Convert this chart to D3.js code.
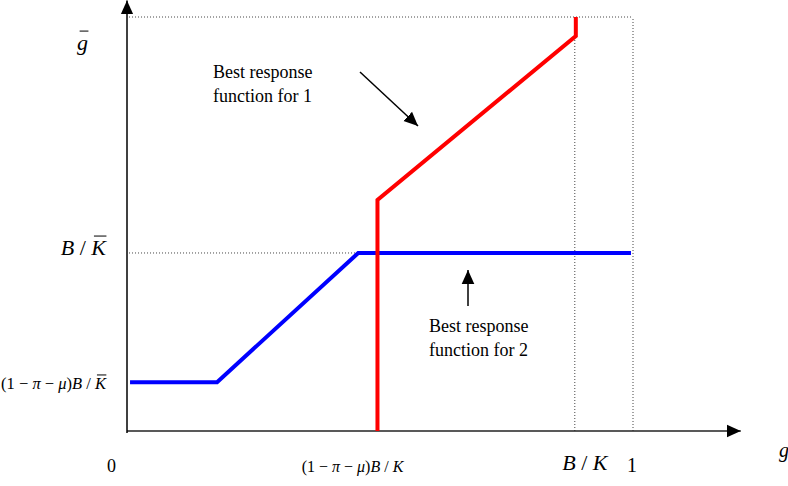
<!DOCTYPE html>
<html>
<head>
<meta charset="utf-8">
<script src="https://cdn.jsdelivr.net/npm/d3@7"></script>
<style>
  body { margin: 0; background: #fff; }
</style>
</head>
<body>
<div id="chart"></div>
<script>
const width = 788;
const height = 486;

// best response curves, in (g, g2) units where 1 = right / top bound
var blueResponse = [[0.006, 0.118], [0.178, 0.118], [0.457, 0.43], [0.996, 0.43]];
var redResponse = [[0.495, 0], [0.495, 0.558], [0.887, 0.954], [0.887, 1]];

// tick positions
var gBar = 1;
var bOverKBar = 0.43;
var lowLevel = 0.118;
var critical = 0.495;
var bOverK = 0.885;
var xEnd = 1.213, yEnd = 1.04;

const x = d3.scaleLinear().domain([0, 1]).range([127, 633]);
const y = d3.scaleLinear().domain([0, 1]).range([431, 17]);

const svg = d3.select("#chart").append("svg")
    .attr("width", width)
    .attr("height", height)
    .attr("font-family", "'Liberation Serif', 'DejaVu Serif', serif");

svg.append("defs").append("marker")
    .attr("id", "arrowhead")
    .attr("viewBox", "0 -5 10 10")
    .attr("refX", 10)
    .attr("refY", 0)
    .attr("markerWidth", 14)
    .attr("markerHeight", 14)
    .attr("markerUnits", "userSpaceOnUse")
    .attr("orient", "auto")
  .append("path")
    .attr("fill", "#000")
    .attr("d", "M0,-4.5L10,0L0,4.5Z");

// dotted guides
const guides = [
  [[0.004, gBar], [1, gBar]],
  [[1, 0], [1, gBar]],
  [[bOverK, 0], [bOverK, 0.95]],
  [[0.004, bOverKBar], [0.457, bOverKBar]]
];
svg.append("g")
    .attr("fill", "none")
    .attr("stroke", "#444")
    .attr("stroke-width", 1)
    .attr("stroke-dasharray", "1,2")
  .selectAll("path")
  .data(guides)
  .join("path")
    .attr("d", d3.line().x(d => x(d[0])).y(d => y(d[1])));

// axes
svg.append("line")
    .attr("x1", x(0)).attr("y1", y(0))
    .attr("x2", x(xEnd)).attr("y2", y(0))
    .attr("stroke", "#222").attr("stroke-width", 1.5)
    .attr("marker-end", "url(#arrowhead)");
svg.append("line")
    .attr("x1", x(0)).attr("y1", y(0) + 2)
    .attr("x2", x(0)).attr("y2", y(yEnd))
    .attr("stroke", "#000").attr("stroke-width", 1.5)
    .attr("marker-end", "url(#arrowhead)");

const line = d3.line().x(d => x(d[0])).y(d => y(d[1]));

svg.append("path")
    .datum(blueResponse)
    .attr("fill", "none")
    .attr("stroke", "#0000ff")
    .attr("stroke-width", 4)
    .attr("d", line);

svg.append("path")
    .datum(redResponse)
    .attr("fill", "none")
    .attr("stroke", "#ff0000")
    .attr("stroke-width", 4)
    .attr("d", line);

// helper: text made of parts, with optional overline on some parts
function mathLabel(px, py, size, parts, anchor) {
  const t = svg.append("text")
      .attr("x", px).attr("y", py)
      .attr("font-size", size)
      .attr("text-anchor", anchor || "start");
  parts.forEach(p => {
    t.append("tspan")
      .attr("font-style", p.i ? "italic" : "normal")
      .text(p.s);
  });
  // overlines
  let idx = 0;
  parts.forEach(p => {
    if (p.bar) {
      const a = t.node().getExtentOfChar(idx);
      const b = t.node().getExtentOfChar(idx + p.s.length - 1);
      svg.append("line")
        .attr("x1", a.x + size * 0.12).attr("x2", b.x + b.width + size * 0.02)
        .attr("y1", py - size * 0.86).attr("y2", py - size * 0.86)
        .attr("stroke", "#000").attr("stroke-width", 1);
    }
    idx += p.s.length;
  });
  return t;
}

// y labels
mathLabel(77, 50, 22, [{s: "g", i: true, bar: true}]);
mathLabel(106, y(bOverKBar) + 2, 22, [{s: "B", i: true}, {s: " / "}, {s: "K", i: true, bar: true}], "end");
mathLabel(106, y(lowLevel) + 7, 16.5, [{s: "(1 − "}, {s: "π", i: true}, {s: " − "}, {s: "μ", i: true}, {s: ")"}, {s: "B", i: true}, {s: " / "}, {s: "K", i: true, bar: true}], "end");

// x labels
mathLabel(107, 472, 18, [{s: "0"}]);
mathLabel(x(critical) - 25, 472, 16, [{s: "(1 − "}, {s: "π", i: true}, {s: " − "}, {s: "μ", i: true}, {s: ")"}, {s: "B", i: true}, {s: " / "}, {s: "K", i: true}], "middle");
mathLabel(x(bOverK) + 10, 470, 22, [{s: "B", i: true}, {s: " / "}, {s: "K", i: true}], "middle");
mathLabel(x(1) - 1, 472, 20, [{s: "1"}], "middle");
mathLabel(779, 457, 20, [{s: "g", i: true}]);

// annotations
const notes = [
  {lines: ["Best response", "function for 1"], x: 213, y: 78},
  {lines: ["Best response", "function for 2"], x: 429, y: 332}
];
notes.forEach(n => {
  const t = svg.append("text").attr("font-size", 18);
  n.lines.forEach((l, i) => {
    t.append("tspan").attr("x", n.x).attr("y", n.y + i * 24).text(l);
  });
});

const pointers = [
  {x1: 360, y1: 72, x2: 418, y2: 126},
  {x1: 468, y1: 306, x2: 468, y2: 270}
];
svg.append("g").selectAll("line")
  .data(pointers)
  .join("line")
    .attr("x1", d => d.x1).attr("y1", d => d.y1)
    .attr("x2", d => d.x2).attr("y2", d => d.y2)
    .attr("stroke", "#000").attr("stroke-width", 1.5)
    .attr("marker-end", "url(#arrowhead)");
</script>
</body>
</html>
